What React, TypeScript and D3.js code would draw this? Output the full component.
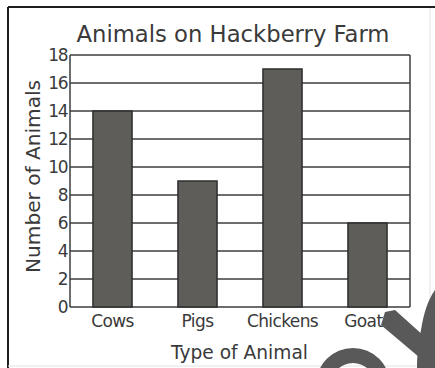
import { useMemo } from 'react'
import * as d3 from 'd3'

const W = 435
const H = 368
const PLOT = { left: 70, right: 410, top: 55, bottom: 307 }

const categories = ['Cows', 'Pigs', 'Chickens', 'Goats']
const counts = [14, 9, 17, 6]
const yTicks = [0, 2, 4, 6, 8, 10, 12, 14, 16, 18]

const TEXT = '#3a3a3a'
const GRID = '#3c3c3c'
const BAR_FILL = '#5e5d59'
const BAR_STROKE = '#2e2e2e'
const MARK = '#595959'
const FONT = "'DejaVu Sans', Verdana, sans-serif"

export default function App() {
  const x = useMemo(
    () => d3.scaleBand<string>().domain(categories).range([PLOT.left, PLOT.right]).paddingInner(0.54).paddingOuter(0.27),
    []
  )
  const y = useMemo(() => d3.scaleLinear().domain([0, 18]).range([PLOT.bottom, PLOT.top]), [])

  // watermark-ish swoosh in the lower right corner
  const ring = d3.arc()({ innerRadius: 22, outerRadius: 37, startAngle: -Math.PI / 2, endAngle: Math.PI / 2 }) ?? ''

  return (
    <svg width={W} height={H} style={{ position: 'absolute', left: 0, top: 0, background: '#fff' }} fontFamily={FONT}>
      {/* frame */}
      <line x1={8} x2={W} y1={7} y2={7} stroke="#1e1e1e" strokeWidth={2} />
      <line x1={8} x2={8} y1={7} y2={H} stroke="#1e1e1e" strokeWidth={2} />
      <line x1={430} x2={430} y1={8} y2={H} stroke="#e2e2e2" strokeWidth={1} />
      <line x1={8} x2={W} y1={366} y2={366} stroke="#e2e2e2" strokeWidth={1} />

      <text x={233} y={42} textAnchor="middle" fontSize={23} fill={TEXT} textLength={313} lengthAdjust="spacingAndGlyphs">
        Animals on Hackberry Farm
      </text>

      {/* grid */}
      {yTicks.map((t) => (
        <g key={t}>
          <line x1={PLOT.left} x2={PLOT.right} y1={y(t)} y2={y(t)} stroke={GRID} strokeWidth={1.5} />
          <text x={67} y={y(t)} dy="0.36em" textAnchor="end" fontSize={17} fill={TEXT} letterSpacing={-1.5}>
            {t}
          </text>
        </g>
      ))}
      <line x1={PLOT.left} x2={PLOT.left} y1={PLOT.top} y2={PLOT.bottom} stroke={GRID} strokeWidth={1.5} />
      <line x1={PLOT.right} x2={PLOT.right} y1={PLOT.top} y2={PLOT.bottom} stroke={GRID} strokeWidth={1.5} />

      {/* bars */}
      {categories.map((c, i) => (
        <rect
          key={c}
          x={x(c)}
          y={y(counts[i])}
          width={x.bandwidth()}
          height={y(0) - y(counts[i])}
          fill={BAR_FILL}
          stroke={BAR_STROKE}
          strokeWidth={1.5}
        />
      ))}

      {categories.map((c) => (
        <text key={c} x={(x(c) ?? 0) + x.bandwidth() / 2} y={327} textAnchor="middle" fontSize={17} fill={TEXT} letterSpacing={-0.6}>
          {c}
        </text>
      ))}

      <text x={239.5} y={359} textAnchor="middle" fontSize={20} fill={TEXT} textLength={137} lengthAdjust="spacingAndGlyphs">
        Type of Animal
      </text>
      <text
        transform={`translate(40,${176.5}) rotate(-90)`}
        textAnchor="middle"
        fontSize={20}
        fill={TEXT}
        textLength={193}
        lengthAdjust="spacingAndGlyphs"
      >
        Number of Animals
      </text>

      {/* corner decoration */}
      <g fill={MARK}>
        <path d={ring} transform="translate(353,385)" />
        <path d="M385,312 L395,310 L435,346 L435,368 L432,368 L381,325 Z" />
        <path d="M435,290 C428,300 424,312 421,330 C418,345 417,358 417,368 L435,368 Z" />
      </g>
    </svg>
  )
}
